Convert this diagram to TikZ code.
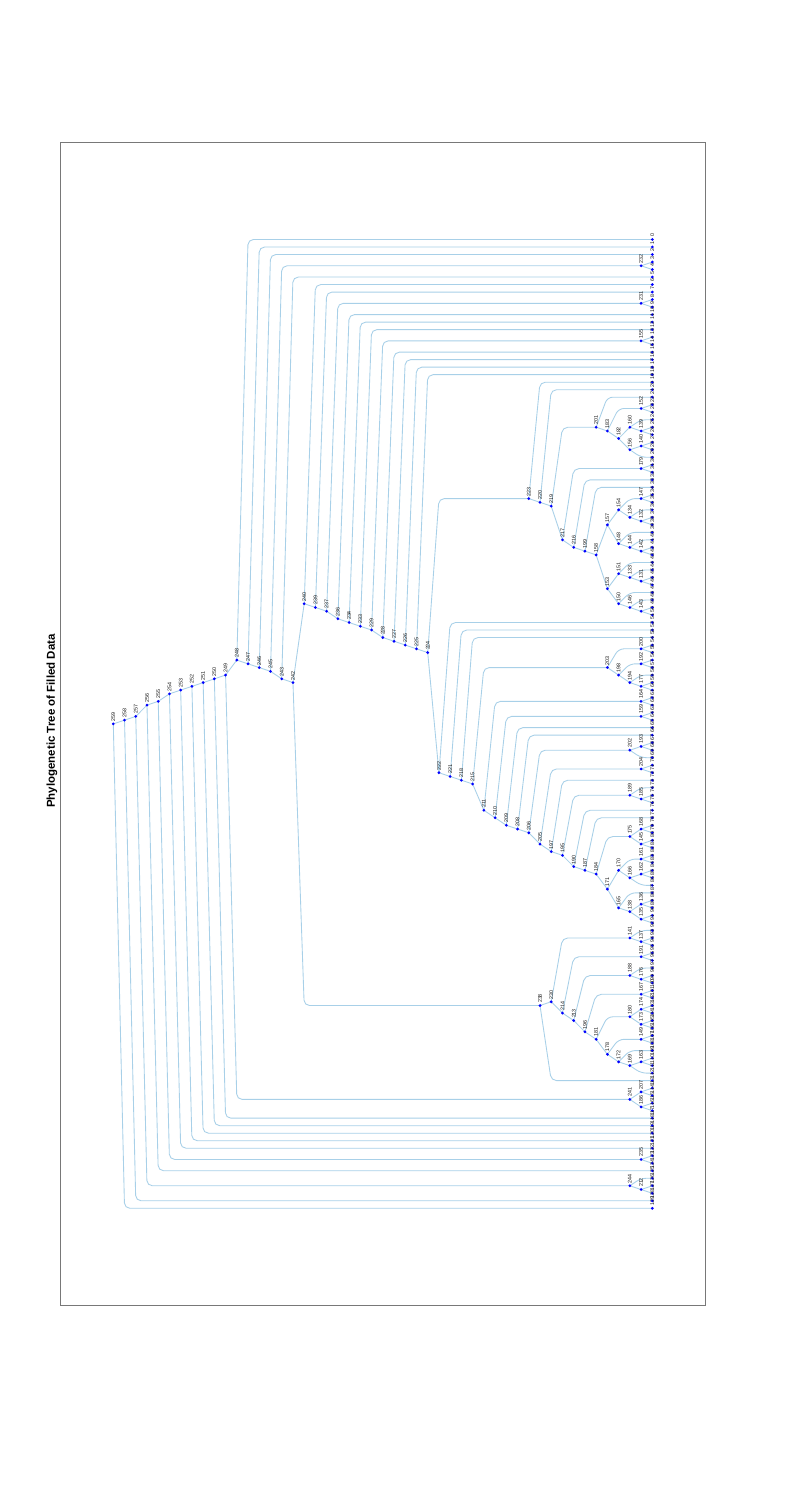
\documentclass[tikz,border=0pt]{standalone}
\usepackage{fontspec}
\setmainfont{Liberation Sans}
\usetikzlibrary{calc}
\definecolor{edgec}{RGB}{168,208,232}
\definecolor{dotc}{RGB}{0,0,255}
\definecolor{labc}{RGB}{25,25,25}
\definecolor{framec}{RGB}{120,120,120}
\newcommand\N[4]{%
  \expandafter\xdef\csname lv@#1\endcsname{#2}%
  \coordinate (n#1) at ({113.3+11.229*#2},{239.5+7.51*(#3+#4)/2});}
\newcommand\E[2]{%
  \pgfmathtruncatemacro\dl{\csname lv@#2\endcsname-\csname lv@#1\endcsname}%
  \ifnum\dl=1\relax
    \draw[edge] (n#1) -- (n#2);
  \else
    \path (n#1) ++(11.229,0) coordinate (tmpc);
    \draw[edge,rounded corners=4pt] (n#1) -- (tmpc |- n#2) -- (n#2);
  \fi}
\newcommand\T[3]{\E{#1}{#2}\E{#1}{#3}}
\begin{document}
\begin{tikzpicture}[x=0.75pt,y=-0.75pt,
  edge/.style={draw=edgec,line width=0.65pt},
  lab/.style={rotate=90,anchor=west,inner sep=0pt,text=labc,font=\fontsize{4}{4.5}\selectfont}]
\useasboundingbox (0,0) rectangle (792,1501);
\fill[white] (0,0) rectangle (792,1501);
\draw[framec,line width=0.5pt] (60,142) rectangle (705,1305);
\node[rotate=90,font=\fontsize{8.6}{10}\selectfont\bfseries] (title) at (52,721) {Phylogenetic Tree of Filled Data};
% leaves
\foreach \i in {0,...,129}{%
  \expandafter\xdef\csname lv@L\i\endcsname{48}%
  \coordinate (nL\i) at (652.3,{239.5+7.51*\i});}
% internal nodes: id, level, first leaf, last leaf
\N{259}{0}{0}{129}\N{258}{1}{0}{128}\N{257}{2}{0}{127}\N{256}{3}{0}{124}
\N{255}{4}{0}{123}\N{254}{5}{0}{121}\N{253}{6}{0}{120}\N{252}{7}{0}{119}
\N{251}{8}{0}{118}\N{250}{9}{0}{117}\N{249}{10}{0}{116}\N{248}{11}{0}{112}
\N{247}{12}{1}{112}\N{246}{13}{2}{112}\N{245}{14}{3}{112}\N{243}{15}{5}{112}
\N{242}{16}{6}{112}\N{240}{17}{6}{91}\N{239}{18}{7}{91}\N{237}{19}{8}{91}
\N{236}{20}{10}{91}\N{234}{21}{11}{91}\N{233}{22}{12}{91}\N{229}{23}{13}{91}
\N{228}{24}{15}{91}\N{227}{25}{16}{91}\N{226}{26}{17}{91}\N{225}{27}{18}{91}
\N{224}{28}{19}{91}
\N{232}{47}{3}{4}\N{231}{47}{8}{9}\N{155}{47}{13}{14}
\N{223}{37}{19}{50}\N{220}{38}{20}{50}\N{219}{39}{21}{50}
\N{201}{43}{21}{29}\N{183}{44}{22}{29}\N{152}{47}{22}{23}\N{182}{45}{24}{29}
\N{160}{46}{24}{26}\N{139}{47}{25}{26}\N{156}{46}{27}{29}\N{140}{47}{27}{28}
\N{217}{40}{30}{50}\N{179}{47}{30}{31}\N{216}{41}{32}{50}\N{199}{42}{33}{50}
\N{158}{43}{34}{50}\N{157}{44}{34}{42}\N{154}{45}{34}{38}\N{147}{47}{34}{35}
\N{134}{46}{36}{38}\N{132}{47}{37}{38}\N{148}{45}{39}{42}\N{144}{46}{40}{42}
\N{142}{47}{41}{42}\N{153}{44}{43}{50}\N{151}{45}{43}{46}\N{133}{46}{44}{46}
\N{131}{47}{45}{46}\N{150}{45}{47}{50}\N{146}{46}{48}{50}\N{143}{47}{49}{50}
\N{222}{29}{51}{91}\N{221}{30}{52}{91}\N{218}{31}{53}{91}\N{215}{32}{54}{91}
\N{203}{44}{54}{60}\N{200}{47}{54}{55}\N{198}{45}{56}{60}\N{192}{47}{56}{57}
\N{194}{46}{58}{60}\N{177}{47}{59}{60}\N{211}{33}{61}{91}\N{164}{47}{61}{62}
\N{210}{34}{63}{91}\N{159}{47}{63}{64}\N{209}{35}{65}{91}\N{208}{36}{66}{91}
\N{206}{37}{67}{91}\N{202}{46}{67}{69}\N{193}{47}{67}{68}\N{205}{38}{70}{91}
\N{204}{47}{70}{71}\N{197}{39}{72}{91}\N{195}{40}{73}{91}\N{189}{46}{73}{75}
\N{185}{47}{74}{75}\N{190}{41}{76}{91}\N{187}{42}{77}{91}\N{184}{43}{78}{91}
\N{175}{46}{78}{81}\N{168}{47}{78}{79}\N{145}{47}{80}{81}\N{171}{44}{82}{91}
\N{170}{45}{82}{86}\N{161}{47}{82}{83}\N{166}{46}{84}{86}\N{162}{47}{84}{85}
\N{165}{45}{87}{91}\N{138}{46}{88}{91}\N{136}{47}{88}{89}\N{135}{47}{90}{91}
\N{238}{38}{92}{112}\N{230}{39}{92}{111}\N{141}{46}{92}{94}\N{137}{47}{93}{94}
\N{214}{40}{95}{111}\N{191}{47}{95}{96}\N{213}{41}{97}{111}\N{188}{46}{97}{99}
\N{176}{47}{98}{99}\N{196}{42}{100}{111}\N{167}{47}{100}{101}\N{181}{43}{102}{111}
\N{180}{46}{102}{105}\N{174}{47}{102}{103}\N{173}{47}{104}{105}\N{178}{44}{106}{111}
\N{149}{47}{106}{107}\N{172}{45}{108}{111}\N{169}{46}{109}{111}\N{163}{47}{109}{110}
\N{241}{46}{113}{116}\N{207}{47}{113}{114}\N{186}{47}{115}{116}
\N{235}{47}{122}{123}\N{244}{46}{125}{127}\N{212}{47}{126}{127}
% edges
\T{259}{258}{L129}\T{258}{257}{L128}\T{257}{256}{244}\T{256}{255}{L124}
\T{255}{254}{235}\T{254}{253}{L121}\T{253}{252}{L120}\T{252}{251}{L119}
\T{251}{250}{L118}\T{250}{249}{L117}\T{249}{248}{241}\T{248}{L0}{247}
\T{247}{L1}{246}\T{246}{L2}{245}\T{245}{232}{243}\T{243}{L5}{242}
\T{242}{240}{238}\T{240}{L6}{239}\T{239}{L7}{237}\T{237}{231}{236}
\T{236}{L10}{234}\T{234}{L11}{233}\T{233}{L12}{229}\T{229}{155}{228}
\T{228}{L15}{227}\T{227}{L16}{226}\T{226}{L17}{225}\T{225}{L18}{224}
\T{224}{223}{222}
\T{232}{L3}{L4}\T{231}{L8}{L9}\T{155}{L13}{L14}
\T{223}{L19}{220}\T{220}{L20}{219}\T{219}{201}{217}\T{201}{L21}{183}
\T{183}{152}{182}\T{152}{L22}{L23}\T{182}{160}{156}\T{160}{L24}{139}
\T{139}{L25}{L26}\T{156}{140}{L29}\T{140}{L27}{L28}\T{217}{179}{216}
\T{179}{L30}{L31}\T{216}{L32}{199}\T{199}{L33}{158}\T{158}{157}{153}
\T{157}{154}{148}\T{154}{147}{134}\T{147}{L34}{L35}\T{134}{L36}{132}
\T{132}{L37}{L38}\T{148}{L39}{144}\T{144}{L40}{142}\T{142}{L41}{L42}
\T{153}{151}{150}\T{151}{L43}{133}\T{133}{L44}{131}\T{131}{L45}{L46}
\T{150}{L47}{146}\T{146}{L48}{143}\T{143}{L49}{L50}
\T{222}{L51}{221}\T{221}{L52}{218}\T{218}{L53}{215}\T{215}{203}{211}
\T{203}{200}{198}\T{200}{L54}{L55}\T{198}{192}{194}\T{192}{L56}{L57}
\T{194}{L58}{177}\T{177}{L59}{L60}\T{211}{164}{210}\T{164}{L61}{L62}
\T{210}{159}{209}\T{159}{L63}{L64}\T{209}{L65}{208}\T{208}{L66}{206}
\T{206}{202}{205}\T{202}{193}{L69}\T{193}{L67}{L68}\T{205}{204}{197}
\T{204}{L70}{L71}\T{197}{L72}{195}\T{195}{189}{190}\T{189}{L73}{185}
\T{185}{L74}{L75}\T{190}{L76}{187}\T{187}{L77}{184}\T{184}{175}{171}
\T{175}{168}{145}\T{168}{L78}{L79}\T{145}{L80}{L81}\T{171}{170}{165}
\T{170}{161}{166}\T{161}{L82}{L83}\T{166}{162}{L86}\T{162}{L84}{L85}
\T{165}{L87}{138}\T{138}{136}{135}\T{136}{L88}{L89}\T{135}{L90}{L91}
\T{238}{230}{L112}\T{230}{141}{214}\T{141}{L92}{137}\T{137}{L93}{L94}
\T{214}{191}{213}\T{191}{L95}{L96}\T{213}{188}{196}\T{188}{L97}{176}
\T{176}{L98}{L99}\T{196}{167}{181}\T{167}{L100}{L101}\T{181}{180}{178}
\T{180}{174}{173}\T{174}{L102}{L103}\T{173}{L104}{L105}\T{178}{149}{172}
\T{149}{L106}{L107}\T{172}{L108}{169}\T{169}{163}{L111}\T{163}{L109}{L110}
\T{241}{207}{186}\T{207}{L113}{L114}\T{186}{L115}{L116}
\T{235}{L122}{L123}\T{244}{L125}{212}\T{212}{L126}{L127}
% dots and labels
\foreach \k in {131,...,259}{\fill[dotc] (n\k) circle (1.15pt);
  \path (n\k) ++(0,-2.3) node[lab] {\k};}
\foreach \i in {0,...,129}{\fill[dotc] (nL\i) circle (1.15pt);
  \path (nL\i) ++(0,-2.3) node[lab] {\i};}
\end{tikzpicture}
\end{document}
